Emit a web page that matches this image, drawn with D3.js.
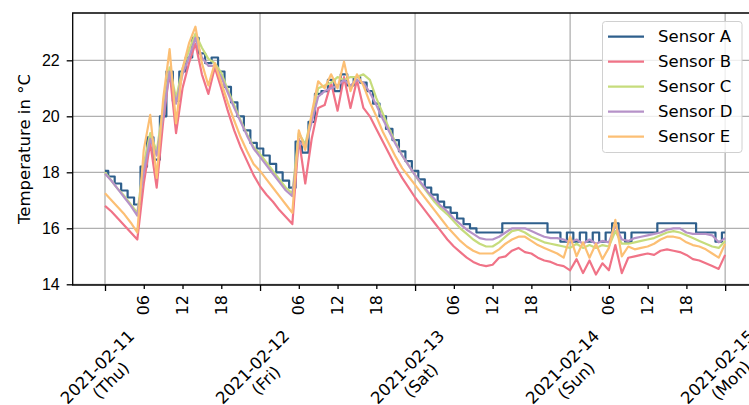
<!DOCTYPE html>
<meta charset="utf-8">
<style>
    body { margin: 0; background: white; }
    svg { display: block; font-family: "DejaVu Sans", sans-serif; }
    .axis path { display: none; }
    .axis line { stroke: black; stroke-width: 1.3px; }
    .axis text { font-size: 16px; fill: black; }
</style>
<body>
<svg width="749" height="405"></svg>
<script src="https://d3js.org/d3.v7.min.js"></script>
<script>
    // hours since 2021-02-11 00:00, one reading per hour
    var hours = d3.range(0, 97);
    var names = ["Sensor A", "Sensor B", "Sensor C", "Sensor D", "Sensor E"];
    var colors = ["#2e5f8c", "#f07387", "#c6dc7c", "#b692c8", "#fcbf74"];

    var sensorA = [18.05,17.85,17.6,17.35,17.1,16.85,18.2,19.25,18.45,20.0,21.6,20.55,21.6,22.1,22.8,22.25,21.9,22.1,21.6,21.05,20.5,20.0,19.5,19.05,
        18.85,18.6,18.3,18.0,17.7,17.45,19.1,18.7,19.8,20.8,20.9,21.3,20.9,21.5,21.1,21.4,21.2,20.9,20.45,20.0,19.55,19.15,18.75,18.4,
        18.05,17.75,17.45,17.2,16.95,16.75,16.55,16.35,16.15,16.0,15.85,15.85,15.85,15.85,16.18,16.18,16.18,16.18,16.18,16.18,16.18,15.85,15.85,15.52,
        15.85,15.52,15.85,15.52,15.85,15.52,15.85,16.18,15.85,15.52,15.85,15.85,15.85,15.85,16.18,16.18,16.18,16.18,16.18,16.18,15.85,15.85,15.85,15.52,
        15.85];
    var sensorB = [16.8,16.6,16.35,16.1,15.85,15.6,17.6,19.05,17.45,19.8,21.6,19.4,21.0,21.9,22.6,21.5,20.8,21.75,21.0,20.2,19.5,18.9,18.4,17.9,
        17.5,17.2,16.95,16.65,16.4,16.15,19.2,17.6,19.2,20.3,20.4,21.2,20.2,21.4,20.3,21.3,20.3,20.0,19.55,19.1,18.65,18.2,17.8,17.45,
        17.1,16.8,16.5,16.2,15.9,15.6,15.35,15.15,14.95,14.8,14.7,14.65,14.7,14.95,15.0,15.2,15.3,15.15,15.1,14.95,14.85,14.8,14.7,14.65,
        14.5,14.9,14.4,14.85,14.35,14.75,14.5,15.4,14.4,14.95,15.0,15.05,15.1,15.05,15.2,15.25,15.2,15.15,15.05,14.9,14.85,14.75,14.65,14.55,
        15.05];
    var sensorC = [18.0,17.7,17.4,17.15,16.85,16.55,18.3,19.4,18.75,20.3,21.75,20.65,21.7,22.35,22.95,22.45,22.05,21.9,21.55,20.95,20.4,19.85,19.35,18.9,
        18.65,18.35,18.05,17.75,17.45,17.25,19.4,19.0,20.0,21.0,21.1,21.2,21.4,21.3,21.4,21.4,21.5,21.3,20.65,20.1,19.55,19.05,18.6,18.25,
        17.9,17.55,17.25,16.95,16.7,16.5,16.25,16.0,15.8,15.6,15.45,15.35,15.35,15.5,15.7,15.9,15.95,15.85,15.7,15.6,15.5,15.45,15.4,15.35,
        15.3,15.45,15.3,15.4,15.3,15.4,15.35,15.9,15.45,15.45,15.5,15.55,15.6,15.65,15.75,15.85,15.9,15.85,15.75,15.65,15.55,15.45,15.35,15.3,
        15.55];
    var sensorD = [17.95,17.7,17.4,17.1,16.8,16.45,18.0,19.2,18.6,20.0,21.6,20.45,21.5,22.1,22.8,22.1,21.8,21.8,21.4,20.85,20.3,19.8,19.3,18.85,
        18.55,18.25,17.95,17.65,17.35,17.15,19.1,18.9,19.8,20.7,20.9,21.0,21.1,21.3,21.1,21.3,21.2,20.85,20.4,19.9,19.45,19.0,18.6,18.25,
        17.9,17.6,17.3,17.05,16.8,16.6,16.35,16.15,15.95,15.8,15.65,15.6,15.6,15.7,15.85,16.0,16.0,16.0,15.9,15.8,15.7,15.65,15.65,15.6,
        15.5,15.6,15.45,15.6,15.45,15.55,15.5,16.1,15.6,15.55,15.65,15.7,15.75,15.8,15.85,15.95,16.0,16.0,15.85,15.8,15.8,15.8,15.75,15.5,
        15.65];
    var sensorE = [17.25,17.0,16.75,16.5,16.2,15.85,18.8,20.05,17.8,20.6,22.4,19.75,21.7,22.6,23.2,21.9,21.1,21.9,21.2,20.5,19.85,19.25,18.75,18.3,
        18.05,17.75,17.45,17.15,16.85,16.55,19.5,18.8,20.1,21.25,21.0,21.5,21.0,21.95,20.9,21.5,21.1,20.5,20.0,19.45,19.0,18.55,18.15,17.85,
        17.55,17.25,16.95,16.65,16.35,16.05,15.8,15.55,15.35,15.2,15.1,15.1,15.1,15.25,15.45,15.6,15.7,15.7,15.55,15.4,15.3,15.2,15.1,14.95,
        15.7,15.0,15.5,14.95,15.45,14.9,15.3,16.3,15.0,15.35,15.25,15.3,15.35,15.45,15.6,15.7,15.7,15.65,15.5,15.4,15.35,15.25,15.1,14.95,
        15.45];

    var dayLabels = ["2021-02-11", "2021-02-12", "2021-02-13", "2021-02-14", "2021-02-15"];
    var dayNames = ["(Thu)", "(Fri)", "(Sat)", "(Sun)", "(Mon)"];
    var hourLabels = ["06", "12", "18"];
    var yTicks = [14, 16, 18, 20, 22];

    var series = [sensorA, sensorB, sensorC, sensorD, sensorE];

    var svg = d3.select("svg");
    var mLeft = 72.7, mTop = 13, mBottom = 285, mRight = 751;

    var start = new Date(Date.UTC(2021, 1, 11));
    var x = d3.scaleUtc()
        .domain([d3.utcHour.offset(start, -4.8), d3.utcHour.offset(start, 100.8)])
        .range([mLeft, mRight]);
    var y = d3.scaleLinear()
        .domain([13.975, 23.69])
        .range([mBottom, mTop]);

    var days = dayLabels.map(function(d, i) { return d3.utcDay.offset(start, i); });
    var minor = [];
    for (var i = 0; i < 4; i++) {
        [6, 12, 18].forEach(function(h) { minor.push(d3.utcHour.offset(start, i * 24 + h)); });
    }

    // grid
    var grid = svg.append("g");
    grid.selectAll(".gx").data(days).enter().append("line")
        .attr("x1", function(d) { return x(d); }).attr("x2", function(d) { return x(d); })
        .attr("y1", mTop).attr("y2", mBottom)
        .attr("stroke", "#b0b0b0").attr("stroke-width", 1.3);
    grid.selectAll(".gy").data(yTicks).enter().append("line")
        .attr("x1", mLeft).attr("x2", mRight)
        .attr("y1", function(d) { return y(d); }).attr("y2", function(d) { return y(d); })
        .attr("stroke", "#b0b0b0").attr("stroke-width", 1.3);

    // lines
    var lines = svg.append("g");
    series.forEach(function(vals, k) {
        var line = d3.line()
            .x(function(d, i) { return x(d3.utcHour.offset(start, hours[i])); })
            .y(function(d) { return y(d); })
            .curve(k == 0 ? d3.curveStep : d3.curveLinear);
        lines.append("path")
            .datum(vals)
            .attr("fill", "none")
            .attr("stroke", colors[k])
            .attr("stroke-width", 2.2)
            .attr("stroke-linejoin", "round")
            .attr("d", line);
    });

    // spines
    svg.append("path")
        .attr("d", "M" + mRight + "," + mTop + "H" + mLeft + "V" + mBottom + "H" + mRight)
        .attr("fill", "none").attr("stroke", "black").attr("stroke-width", 1.3);

    // axes
    svg.append("g").attr("class", "axis")
        .attr("transform", "translate(" + mLeft + ",0)")
        .call(d3.axisLeft(y).tickValues(yTicks).tickSize(6).tickPadding(7).tickFormat(d3.format("d")));

    svg.append("g").attr("class", "axis")
        .attr("transform", "translate(0," + mBottom + ")")
        .call(d3.axisBottom(x).tickValues(days).tickSize(6).tickFormat(""));

    svg.append("g").attr("class", "axis")
        .attr("transform", "translate(0," + mBottom + ")")
        .call(d3.axisBottom(x).tickValues(minor).tickSize(4).tickFormat(""));

    // rotated hour labels
    svg.append("g").selectAll("text").data(minor).enter().append("text")
        .attr("transform", function(d) { return "translate(" + x(d) + ",295) rotate(-90)"; })
        .attr("text-anchor", "end")
        .attr("dy", "0.35em")
        .attr("font-size", "16px")
        .text(function(d, i) { return hourLabels[i % 3]; });

    // rotated day labels
    var dl = svg.append("g").selectAll("g").data(days).enter().append("g")
        .attr("transform", function(d) { return "translate(" + (x(d) - 7.6) + ",367) rotate(-45)"; });
    dl.append("text")
        .attr("text-anchor", "middle").attr("dy", "0.35em").attr("font-size", "16.5px")
        .text(function(d, i) { return dayLabels[i]; });
    dl.append("text")
        .attr("text-anchor", "middle").attr("y", 19).attr("dy", "0.35em").attr("font-size", "16.5px")
        .text(function(d, i) { return dayNames[i]; });

    // y label
    svg.append("text")
        .attr("transform", "translate(24," + ((mTop + mBottom) / 2) + ") rotate(-90)")
        .attr("text-anchor", "middle").attr("dy", "0.35em")
        .attr("font-size", "16.5px")
        .text("Temperature in °C");

    // legend
    var leg = svg.append("g");
    leg.append("rect")
        .attr("x", 602.5).attr("y", 21.5).attr("width", 139.5).attr("height", 131)
        .attr("rx", 3).attr("fill", "white").attr("fill-opacity", 0.8)
        .attr("stroke", "#d0d0d0").attr("stroke-width", 1);
    var items = leg.selectAll(".item").data(names).enter().append("g")
        .attr("transform", function(d, i) { return "translate(0," + (36.7 + i * 25) + ")"; });
    items.append("line")
        .attr("x1", 608).attr("x2", 644)
        .attr("stroke", function(d, i) { return colors[i]; })
        .attr("stroke-width", 2.2);
    items.append("text")
        .attr("x", 658).attr("dy", "0.35em").attr("font-size", "16.5px")
        .text(function(d) { return d; });
</script>
</body>
